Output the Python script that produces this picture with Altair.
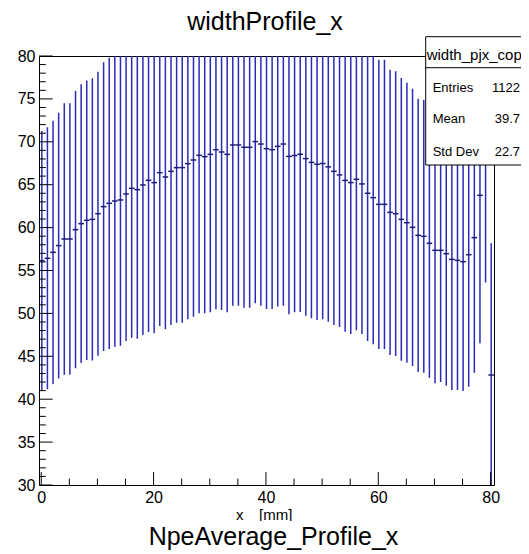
import altair as alt
import pandas as pd

FONT = "Liberation Sans"

# ---- data ----
bin_index = list(range(81))
x_low_edge = -0.4
bin_width = 1.0
means = [56.15, 56.42, 57.12, 57.90, 58.67, 58.67, 59.76, 60.46, 60.85, 60.96,
         61.62, 62.44, 62.83, 63.10, 63.22, 63.92, 64.58, 64.42, 64.97, 65.51,
         65.24, 66.40, 65.90, 66.56, 66.99, 66.99, 67.45, 67.88, 68.42, 68.27,
         68.54, 69.08, 68.81, 68.54, 69.63, 69.63, 69.36, 69.36, 70.02, 69.74,
         69.20, 69.08, 69.47, 69.74, 68.30, 68.40, 68.55, 68.04, 67.60, 67.38,
         67.47, 67.08, 66.56, 66.14, 65.50, 65.25, 65.63, 65.09, 64.00, 63.49,
         62.71, 62.71, 61.78, 61.62, 60.96, 60.57, 60.03, 59.10, 58.98, 58.17,
         57.35, 57.35, 56.96, 56.30, 56.18, 56.03, 56.84, 58.83, 63.76, 68.00,
         42.82]
errs = [15.11, 15.27, 15.34, 15.50, 15.81, 15.81, 16.16, 16.24, 16.28, 16.44,
        16.55, 16.82, 16.97, 16.98, 16.98, 17.14, 17.41, 17.37, 17.49, 17.68,
        17.56, 17.87, 17.76, 17.91, 18.07, 18.07, 18.14, 18.26, 18.41, 18.26,
        18.42, 18.61, 18.41, 18.42, 18.73, 18.73, 18.69, 18.69, 18.85, 18.84,
        18.69, 18.57, 18.68, 18.84, 18.40, 18.27, 18.40, 18.30, 18.17, 18.15,
        18.16, 18.04, 17.90, 17.72, 17.63, 17.65, 17.60, 17.49, 17.22, 17.09,
        16.86, 16.86, 16.63, 16.59, 16.47, 16.31, 16.16, 15.93, 15.89, 15.66,
        15.50, 15.35, 15.38, 15.23, 15.11, 15.07, 15.38, 15.74, 17.25, 14.40,
        15.35]

x_domain = [-0.4, 80.6]
y_domain = [30, 80]
x_label_values = [0, 20, 40, 60, 80]
y_label_values = [30, 35, 40, 45, 50, 55, 60, 65, 70, 75, 80]
x_major_ticks = [0, 20, 40, 60, 80]
x_minor_ticks = [5, 10, 15, 25, 30, 35, 45, 50, 55, 65, 70, 75]
y_major_ticks = y_label_values
y_minor_ticks = [v for v in range(30, 81) if v % 5 != 0]

title_text = "widthProfile_x"
subtitle_text = "NpeAverage_Profile_x"
x_title_parts = ["x", "[mm]"]
stats_header = "width_pjx_copy"
stats_labels = ["Entries", "Mean", "Std Dev"]
stats_values = ["1122", "39.7", "22.7"]

# ---- build table ----
df = pd.DataFrame({"i": bin_index, "mean": means, "err": errs})
df["xl"] = x_low_edge + bin_width * df["i"]
df["xh"] = df["xl"] + bin_width
df["xc"] = df["xl"] + bin_width * 0.5
df["lo"] = df["mean"] - df["err"]
df["hi"] = df["mean"] + df["err"]

W, H = 455, 429

xs = alt.Scale(domain=x_domain, nice=False, zero=False)
ys = alt.Scale(domain=y_domain, nice=False, zero=False)
xaxis = alt.Axis(values=x_label_values, ticks=False, domain=False, grid=False,
                 labelFontSize=16, labelPadding=4, labelFlush=False,
                 labelOverlap=False, title=None)
yaxis = alt.Axis(values=y_label_values, ticks=False, domain=False, grid=False,
                 labelFontSize=16, labelPadding=4, labelFlush=False,
                 labelOverlap=False, title=None)


def X(field):
    return alt.X(field, type="quantitative", scale=xs, axis=xaxis)


def Y(field):
    return alt.Y(field, type="quantitative", scale=ys, axis=yaxis)


base = alt.Chart(df)

bars = base.mark_rule(color="#2b2bb6", strokeWidth=1.5, clip=True).encode(
    x=X("xc"), y=Y("lo"), y2="hi:Q")

mean_ticks = base.mark_rule(color="#1c1c78", strokeWidth=1.5, clip=True).encode(
    x=X("xl"), x2="xh:Q", y=Y("mean"))

ymaj = alt.Chart(pd.DataFrame({"v": y_major_ticks})).mark_rule(color="black", strokeWidth=1).encode(
    y=Y("v"), x=alt.value(0), x2=alt.value(13.7))
ymin = alt.Chart(pd.DataFrame({"v": y_minor_ticks})).mark_rule(color="black", strokeWidth=1).encode(
    y=Y("v"), x=alt.value(0), x2=alt.value(6.8))
xmaj = alt.Chart(pd.DataFrame({"v": x_major_ticks})).mark_rule(color="black", strokeWidth=1).encode(
    x=X("v"), y=alt.value(H), y2=alt.value(H - 12.9))
xmin = alt.Chart(pd.DataFrame({"v": x_minor_ticks})).mark_rule(color="black", strokeWidth=1).encode(
    x=X("v"), y=alt.value(H), y2=alt.value(H - 6.4))

one = pd.DataFrame({"a": [0]})

# stats box
box = alt.Chart(one).mark_rect(fill="white", stroke="black", strokeWidth=1).encode(
    x=alt.value(386.7), x2=alt.value(500), y=alt.value(-19.3), y2=alt.value(109))
box_sep = alt.Chart(one).mark_rule(color="black", strokeWidth=1).encode(
    x=alt.value(386.7), x2=alt.value(500), y=alt.value(11.7))
box_header = alt.Chart(one).mark_text(font=FONT, fontSize=15, align="left", baseline="alphabetic",
                                      color="black").encode(
    x=alt.value(387.7), y=alt.value(4), text=alt.value(stats_header))

stat_layers = []
row_y = [35.7, 67.3, 99.7]
for lab, val, yy in zip(stats_labels, stats_values, row_y):
    stat_layers.append(alt.Chart(one).mark_text(font=FONT, fontSize=13, align="left",
                                                baseline="alphabetic", color="black").encode(
        x=alt.value(393.7), y=alt.value(yy), text=alt.value(lab)))
    stat_layers.append(alt.Chart(one).mark_text(font=FONT, fontSize=13, align="right",
                                                baseline="alphabetic", color="black").encode(
        x=alt.value(481), y=alt.value(yy), text=alt.value(val)))

# titles
top_title = alt.Chart(one).mark_text(font=FONT, fontSize=25, align="center", baseline="alphabetic",
                                     color="black").encode(
    x=alt.value(226), y=alt.value(-26), text=alt.value(title_text))
xt1 = alt.Chart(one).mark_text(font=FONT, fontSize=15, align="left", baseline="alphabetic",
                               color="black").encode(
    x=alt.value(197), y=alt.value(463.5), text=alt.value(x_title_parts[0]))
xt2 = alt.Chart(one).mark_text(font=FONT, fontSize=15, align="left", baseline="alphabetic",
                               color="black").encode(
    x=alt.value(220), y=alt.value(463.5), text=alt.value(x_title_parts[1]))
cover = alt.Chart(one).mark_rect(fill="white", stroke=None).encode(
    x=alt.value(100), x2=alt.value(372), y=alt.value(465), y2=alt.value(500))
bottom_title = alt.Chart(one).mark_text(font=FONT, fontSize=25, align="center", baseline="alphabetic",
                                        color="black").encode(
    x=alt.value(234.5), y=alt.value(489), text=alt.value(subtitle_text))

chart = alt.layer(
    bars, mean_ticks, ymaj, ymin, xmaj, xmin,
    box, box_sep, box_header, *stat_layers,
    top_title, xt1, xt2, cover, bottom_title
).properties(
    width=W, height=H,
    padding={"left": 31, "top": 48, "right": 27, "bottom": 69},
    autosize=alt.AutoSizeParams(type="none"),
    background="white",
).configure_view(
    stroke="black", strokeWidth=1
).configure_axis(
    labelFont=FONT, labelColor="black"
)

chart.save("out.html", embed_options={"renderer": "svg", "actions": False})
